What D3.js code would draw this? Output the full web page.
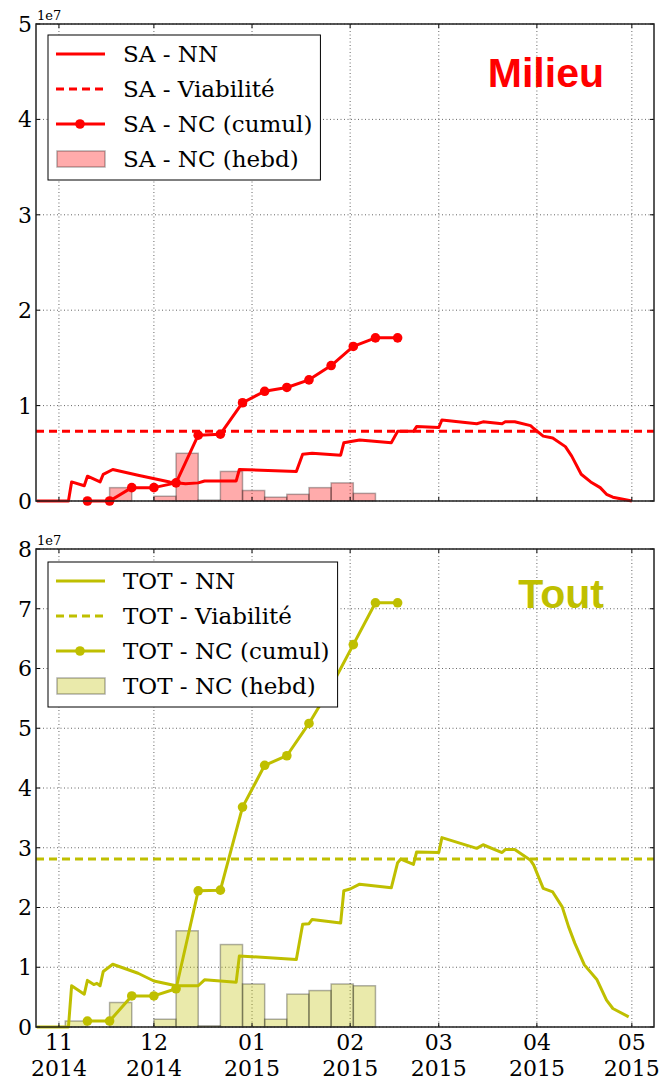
<!DOCTYPE html>
<html>
<head>
<meta charset="utf-8">
<script src="https://cdn.jsdelivr.net/npm/d3@7"></script>
<style>
  body { margin: 0; background: #fff; }
</style>
</head>
<body>
<svg id="Vis" width="664" height="1080"></svg>
<script>

/*
* DATA (values in units of 1e7)
*/

const monthTicks = ["2014-11-01", "2014-12-01", "2015-01-01", "2015-02-01",
  "2015-03-01", "2015-04-01", "2015-05-01"];

/* weekly bars (week starts) */
const weekStarts = ["2014-11-03", "2014-11-10", "2014-11-17", "2014-11-24",
  "2014-12-01", "2014-12-08", "2014-12-15", "2014-12-22", "2014-12-29",
  "2015-01-05", "2015-01-12", "2015-01-19", "2015-01-26", "2015-02-02"];
const saWeekly = [0, 0, 0.14, 0, 0.05, 0.50, 0.01, 0.31, 0.11, 0.04, 0.07, 0.14, 0.19, 0.08];
const totWeekly = [0.10, 0, 0.41, 0, 0.13, 1.61, 0.02, 1.38, 0.72, 0.13, 0.55, 0.61, 0.72, 0.69];

/* cumulative points */
const cumulDates = ["2014-11-10", "2014-11-17", "2014-11-24", "2014-12-01",
  "2014-12-08", "2014-12-15", "2014-12-22", "2014-12-29", "2015-01-05",
  "2015-01-12", "2015-01-19", "2015-01-26", "2015-02-02", "2015-02-09", "2015-02-16"];
const saCumul = [0, 0, 0.14, 0.14, 0.19, 0.69, 0.70, 1.03, 1.15, 1.19, 1.27, 1.42, 1.62, 1.71, 1.71];
const totCumul = [0.10, 0.10, 0.52, 0.52, 0.64, 2.28, 2.29, 3.68, 4.38, 4.54, 5.08, 5.70, 6.40, 7.10, 7.10];

/* NN curves */
const saNNDates = ["2014-10-25", "2014-11-04", "2014-11-05", "2014-11-09", "2014-11-10",
  "2014-11-14", "2014-11-15", "2014-11-18", "2014-11-26", "2014-12-06", "2014-12-11",
  "2014-12-15", "2014-12-17", "2014-12-27", "2014-12-28", "2015-01-15", "2015-01-17",
  "2015-01-20", "2015-01-29", "2015-01-30", "2015-02-04", "2015-02-14", "2015-02-16",
  "2015-02-21", "2015-02-22", "2015-03-01", "2015-03-02", "2015-03-13", "2015-03-15",
  "2015-03-21", "2015-03-22", "2015-03-25", "2015-03-30", "2015-03-31", "2015-04-03",
  "2015-04-06", "2015-04-10", "2015-04-12", "2015-04-15", "2015-04-18", "2015-04-21",
  "2015-04-23", "2015-04-25", "2015-05-01"];
const saNNValues = [0, 0, 0.20, 0.16, 0.26,
  0.20, 0.28, 0.33, 0.27, 0.20, 0.18,
  0.19, 0.21, 0.21, 0.33, 0.31, 0.49,
  0.50, 0.48, 0.61, 0.64, 0.61, 0.73,
  0.73, 0.78, 0.77, 0.85, 0.81, 0.83,
  0.81, 0.83, 0.83, 0.79, 0.76, 0.68,
  0.66, 0.57, 0.47, 0.28, 0.20, 0.14,
  0.07, 0.04, 0.00];

const totNNDates = ["2014-10-25", "2014-11-04", "2014-11-05", "2014-11-09", "2014-11-10",
  "2014-11-12", "2014-11-13", "2014-11-14", "2014-11-15", "2014-11-18", "2014-11-26",
  "2014-12-01", "2014-12-08", "2014-12-15", "2014-12-17", "2014-12-27", "2014-12-28",
  "2015-01-15", "2015-01-17", "2015-01-19", "2015-01-20", "2015-01-29", "2015-01-30",
  "2015-02-01", "2015-02-04", "2015-02-14", "2015-02-16", "2015-02-17", "2015-02-21",
  "2015-02-22", "2015-03-01", "2015-03-02", "2015-03-13", "2015-03-15", "2015-03-21",
  "2015-03-22", "2015-03-25", "2015-03-30", "2015-03-31", "2015-04-03", "2015-04-06",
  "2015-04-09", "2015-04-11", "2015-04-13", "2015-04-16", "2015-04-20", "2015-04-23",
  "2015-04-25", "2015-04-30"];
const totNNValues = [0, 0, 0.69, 0.55, 0.78,
  0.71, 0.73, 0.69, 0.93, 1.05, 0.90,
  0.77, 0.69, 0.69, 0.79, 0.75, 1.19,
  1.13, 1.72, 1.73, 1.80, 1.74, 2.28,
  2.31, 2.39, 2.33, 2.75, 2.81, 2.72,
  2.93, 2.92, 3.17, 2.99, 3.05, 2.92,
  2.97, 2.97, 2.79, 2.71, 2.32, 2.26,
  2.01, 1.68, 1.40, 1.04, 0.79, 0.45,
  0.31, 0.17];

const saViability = 0.73;
const totViability = 2.81;

const saTicks = [0, 1, 2, 3, 4, 5];
const totTicks = [0, 1, 2, 3, 4, 5, 6, 7, 8];


/*
* SETUP
*/

const parseDate = d3.timeParse("%Y-%m-%d");
const svg = d3.select("svg#Vis");
const serif = "'DejaVu Serif'";

const left = 36, right = 654;

const x = d3.scaleTime()
  .domain([new Date(2014, 9, 24, 18), new Date(2015, 4, 8)])
  .range([left, right]);

const panels = [
  {
    title: "Milieu", prefix: "SA", color: "#ff0000",
    top: 24, bottom: 501, ticks: saTicks,
    weekly: saWeekly, cumul: saCumul,
    nnDates: saNNDates, nnValues: saNNValues, viability: saViability,
    showX: false, titleX: 604, titleY: 87, legendY: 35
  },
  {
    title: "Tout", prefix: "TOT", color: "#bfbf00",
    top: 549, bottom: 1027, ticks: totTicks,
    weekly: totWeekly, cumul: totCumul,
    nnDates: totNNDates, nnValues: totNNValues, viability: totViability,
    showX: true, titleX: 604, titleY: 608, legendY: 562
  }
];

panels.forEach(drawPanel);


/*
* PANEL DRAWING
*/

function drawPanel(p) {
  const g = svg.append("g");

  const y = d3.scaleLinear()
    .domain([0, d3.max(p.ticks)])
    .range([p.bottom, p.top]);

  const months = monthTicks.map(parseDate);

  /* grid */
  g.append("g").selectAll("line.vgrid")
    .data(months)
    .join("line")
      .attr("x1", d => x(d)).attr("x2", d => x(d))
      .attr("y1", p.top).attr("y2", p.bottom)
      .attr("stroke", "#666").attr("stroke-dasharray", "1,2.5");

  g.append("g").selectAll("line.hgrid")
    .data(p.ticks)
    .join("line")
      .attr("x1", left).attr("x2", right)
      .attr("y1", d => y(d)).attr("y2", d => y(d))
      .attr("stroke", "#666").attr("stroke-dasharray", "1,2.5");

  /* weekly bars */
  const bars = weekStarts.map((d, i) => ({ start: parseDate(d), value: p.weekly[i] }))
    .filter(d => d.value > 0);

  g.append("g").selectAll("rect")
    .data(bars)
    .join("rect")
      .attr("x", d => x(d.start))
      .attr("width", d => x(d3.timeDay.offset(d.start, 7)) - x(d.start))
      .attr("y", d => y(d.value))
      .attr("height", d => y(0) - y(d.value))
      .attr("fill", p.color).attr("fill-opacity", 0.33)
      .attr("stroke", "#000").attr("stroke-opacity", 0.3).attr("stroke-width", 1.5);

  /* NN line */
  const nn = p.nnDates.map((d, i) => [parseDate(d), p.nnValues[i]]);
  const line = d3.line().x(d => x(d[0])).y(d => y(d[1]));

  g.append("path")
    .datum(nn)
    .attr("d", line)
    .attr("fill", "none")
    .attr("stroke", p.color).attr("stroke-width", 3)
    .attr("stroke-linejoin", "round");

  /* viability */
  g.append("line")
    .attr("x1", left).attr("x2", right)
    .attr("y1", y(p.viability)).attr("y2", y(p.viability))
    .attr("stroke", p.color).attr("stroke-width", 3)
    .attr("stroke-dasharray", "8,5");

  /* cumulative */
  const cumul = cumulDates.map((d, i) => [parseDate(d), p.cumul[i]]);

  g.append("path")
    .datum(cumul)
    .attr("d", line)
    .attr("fill", "none")
    .attr("stroke", p.color).attr("stroke-width", 3)
    .attr("stroke-linejoin", "round");

  g.append("g").selectAll("circle")
    .data(cumul)
    .join("circle")
      .attr("cx", d => x(d[0]))
      .attr("cy", d => y(d[1]))
      .attr("r", 4.8)
      .attr("fill", p.color);

  /* ticks (inside, all four sides) */
  const tk = g.append("g").attr("stroke", "#000").attr("stroke-width", 1);
  p.ticks.forEach(t => {
    tk.append("line").attr("x1", left).attr("x2", left + 4).attr("y1", y(t)).attr("y2", y(t));
    tk.append("line").attr("x1", right - 4).attr("x2", right).attr("y1", y(t)).attr("y2", y(t));
  });
  months.forEach(m => {
    tk.append("line").attr("x1", x(m)).attr("x2", x(m)).attr("y1", p.bottom).attr("y2", p.bottom - 4);
    tk.append("line").attr("x1", x(m)).attr("x2", x(m)).attr("y1", p.top).attr("y2", p.top + 4);
  });

  /* frame */
  g.append("rect")
    .attr("x", left).attr("y", p.top)
    .attr("width", right - left).attr("height", p.bottom - p.top)
    .attr("fill", "none").attr("stroke", "#222").attr("stroke-width", 1.5);

  /* y labels */
  g.append("g").selectAll("text")
    .data(p.ticks)
    .join("text")
      .attr("x", 32).attr("y", d => y(d))
      .attr("dy", "0.36em")
      .attr("text-anchor", "end")
      .style("font-family", serif)
      .style("font-size", "22px")
      .text(d => d);

  g.append("text")
    .attr("x", 37).attr("y", p.top - 4)
    .style("font-family", serif)
    .style("font-size", "13px")
    .text("1e7");

  /* x labels */
  if (p.showX) {
    const fmtM = d3.timeFormat("%m"), fmtY = d3.timeFormat("%Y");
    const xl = g.append("g").selectAll("g")
      .data(months)
      .join("g")
        .attr("transform", d => "translate(" + x(d) + ",0)");
    xl.append("text").attr("y", 1050).attr("text-anchor", "middle")
      .style("font-family", serif)
      .style("font-size", "22px").text(d => fmtM(d));
    xl.append("text").attr("y", 1076).attr("text-anchor", "middle")
      .style("font-family", serif)
      .style("font-size", "22px").text(d => fmtY(d));
  }

  /* title */
  g.append("text")
    .attr("x", p.titleX).attr("y", p.titleY)
    .attr("text-anchor", "end")
    .style("font-family", "'Liberation Sans'")
    .style("font-weight", "bold")
    .style("font-size", "41px")
    .style("fill", p.color)
    .text(p.title);

  drawLegend(g, p);
}


/*
* LEGEND
*/

function drawLegend(g, p) {
  const lx = 48, ly = p.legendY;
  const labels = [p.prefix + " - NN", p.prefix + " - Viabilité",
    p.prefix + " - NC (cumul)", p.prefix + " - NC (hebd)"];

  const box = g.append("rect")
    .attr("x", lx).attr("y", ly).attr("height", 145)
    .attr("fill", "#fff").attr("stroke", "#000").attr("stroke-width", 1);

  const lg = g.append("g");
  let maxLen = 0;
  labels.forEach((lab, i) => {
    const cy = ly + 19 + 35 * i;
    if (i < 3) {
      lg.append("line")
        .attr("x1", 56).attr("x2", 105).attr("y1", cy).attr("y2", cy)
        .attr("stroke", p.color).attr("stroke-width", 3)
        .attr("stroke-dasharray", i == 1 ? "8,5" : null);
    }
    if (i == 2) {
      lg.append("circle").attr("cx", 80).attr("cy", cy).attr("r", 4.8).attr("fill", p.color);
    }
    if (i == 3) {
      lg.append("rect")
        .attr("x", 57).attr("y", cy - 8).attr("width", 48).attr("height", 16)
        .attr("fill", p.color).attr("fill-opacity", 0.33)
        .attr("stroke", "#000").attr("stroke-opacity", 0.3).attr("stroke-width", 1.5);
    }
    const t = lg.append("text")
      .attr("x", 123).attr("y", cy).attr("dy", "0.36em")
      .style("font-family", serif)
      .style("font-size", "23px")
      .text(lab);
    maxLen = Math.max(maxLen, t.node().getComputedTextLength());
  });

  box.attr("width", 123 - lx + maxLen + 8);
}

</script>
</body>
</html>
